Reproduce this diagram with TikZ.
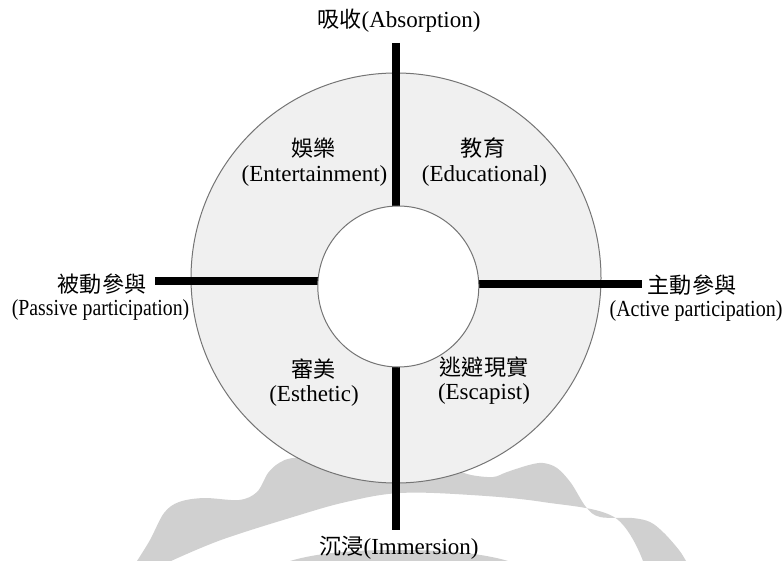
\documentclass[tikz,border=0pt]{standalone}
\usepackage{fontspec}
\usepackage{graphicx}
\setmainfont{Liberation Serif}
\newfontfamily\cjk[Scale=0.96]{Noto Sans CJK TC}
\definecolor{wm}{HTML}{D0D0D0}
\definecolor{ringfill}{HTML}{F0F0F0}
\definecolor{ringline}{HTML}{747474}
\tikzset{
  lbl/.style={inner sep=0pt, outer sep=0pt, font=\fontsize{23}{27}\selectfont, text=black},
  axisbar/.style={line width=8pt, draw=black},
  ring/.style={draw=ringline, line width=1pt}
}
\begin{document}
\begin{tikzpicture}[x=1pt,y=-1pt]
\useasboundingbox (0,0) rectangle (783,561);
% watermark
\fill[wm] plot[smooth, tension=0.55] coordinates {(137,561) (150,540) (164,513) (179,502) (204,498) (239,500) (257,492) (268,473) (279,463) (293,458) (330,456) (400,462) (450,469) (471,475) (493,477) (507,472) (529,465) (543,463) (557,468) (571,483) (586,507) (600,517) (632,518) (650,522) (664,533) (679,550) (686,561)}
  -- plot[smooth, tension=0.6] coordinates {(643,561) (614,517) (543,502) (471,495) (400,493) (346,502) (293,517) (221,540) (171,561)} -- cycle;
\fill[wm] (290,561) .. controls (320,552) and (360,550) .. (398,550) .. controls (436,550) and (478,552) .. (508,561) -- cycle;
% ring
\node[circle, ring, fill=ringfill, minimum size=410pt, inner sep=0pt] (outer) at (396,278) {};
% axes
\coordinate (vtop) at (396,43);
\coordinate (vbot) at (396,530);
\coordinate (lend) at (155,281);
\coordinate (lin) at (340,281);
\coordinate (rin) at (460,284);
\coordinate (rend) at (642,284);
\draw[axisbar] (vtop) -- (vbot);
\draw[axisbar] (lend) -- (lin);
\draw[axisbar] (rin) -- (rend);
\node[circle, ring, fill=white, minimum size=161pt, inner sep=0pt] (inner) at (398.3,286.5) {};
% labels
\node[lbl] (abs) at (399,21) {{\cjk 吸收}(Absorption)};
\node[lbl] (imm) at (399,548) {{\cjk 沉浸}(Immersion)};
\node[lbl] (pas1) at (102,284) {\cjk 被動參與};
\node[lbl] (pas2) at (100.5,310) {\scalebox{0.86}[1]{(Passive participation)}};
\node[lbl] (act1) at (692,285) {\cjk 主動參與};
\node[lbl] (act2) at (696,311) {\scalebox{0.87}[1]{(Active participation)}};
\node[lbl] (ent1) at (313.5,148) {\cjk 娛樂};
\node[lbl] (ent2) at (314.5,176) {(Entertainment)};
\node[lbl] (edu1) at (483,148) {\cjk 教育};
\node[lbl] (edu2) at (484.5,176) {(Educational)};
\node[lbl] (est1) at (313.5,369) {\cjk 審美};
\node[lbl] (est2) at (314,396) {(Esthetic)};
\node[lbl] (esc1) at (484,367) {\cjk 逃避現實};
\node[lbl] (esc2) at (484,393.5) {(Escapist)};
\end{tikzpicture}
\end{document}
